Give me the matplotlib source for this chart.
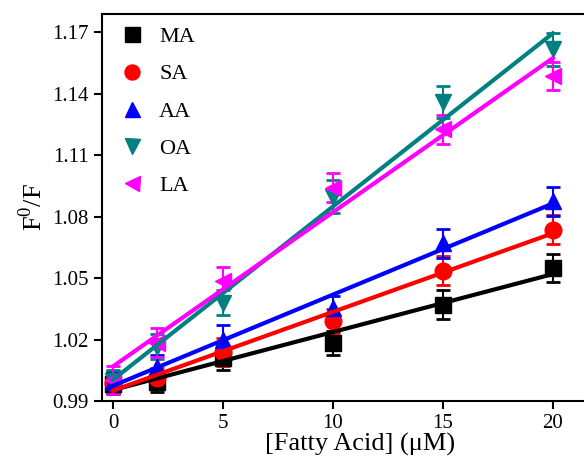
import numpy as np
import matplotlib
matplotlib.use('Agg')
import matplotlib.pyplot as plt

plt.rcParams['font.family'] = ['Liberation Serif', 'DejaVu Serif']
plt.rcParams['mathtext.fontset'] = 'custom'
plt.rcParams['mathtext.rm'] = 'Liberation Serif'

# concentrations (uM)
conc = [0, 2, 5, 10, 15, 20]

# F0/F values
ma = [0.9985, 0.9995, 1.0110, 1.0184, 1.0370, 1.0550]
sa = [0.9990, 1.0010, 1.0140, 1.0290, 1.0536, 1.0737]
aa = [0.9995, 1.0066, 1.0200, 1.0355, 1.0670, 1.0874]
oa = [1.0000, 1.0165, 1.0380, 1.0898, 1.1360, 1.1617]
la = [1.0003, 1.0185, 1.0485, 1.0942, 1.1226, 1.1486]

# error bars
ma_err = [0.005, 0.005, 0.006, 0.006, 0.007, 0.007]
sa_err = [0.005, 0.005, 0.007, 0.006, 0.007, 0.007]
aa_err = [0.005, 0.006, 0.007, 0.006, 0.007, 0.007]
oa_err = [0.005, 0.006, 0.006, 0.008, 0.008, 0.008]
la_err = [0.007, 0.007, 0.007, 0.007, 0.007, 0.007]

labels = ['MA', 'SA', 'AA', 'OA', 'LA']
colors = ['black', 'red', 'blue', '#008080', 'magenta']
markers = ['s', 'o', '^', 'v', '<']
series = [ma, sa, aa, oa, la]
errors = [ma_err, sa_err, aa_err, oa_err, la_err]

fig = plt.figure(figsize=(5.84, 4.62), dpi=100)
# the right part of the frame is cut off in the original picture
ax = fig.add_axes([0.1747, 0.132, 0.883, 0.838])

x = np.array(conc)
for y, e, c, m, lab in zip(series, errors, colors, markers, labels):
    ax.errorbar(x, y, yerr=e, fmt=m, color=c, markersize=12, capsize=5,
                elinewidth=1.5, capthick=2, label=lab, zorder=2)

# linear fits
for y, c in zip(series, colors):
    k, b = np.polyfit(x, y, 1)
    xx = np.array([0, 20])
    ax.plot(xx, k * xx + b, color=c, lw=3, zorder=3)

ax.set_xlim(-0.5, 22.95)
ax.set_ylim(0.99, 1.179)
ax.set_xticks([0, 5, 10, 15, 20])
ax.set_yticks([0.99, 1.02, 1.05, 1.08, 1.11, 1.14, 1.17])
ax.set_yticklabels(['0.99', '1.02', '1.05', '1.08', '1.11', '1.14', '1.17'])
ax.tick_params(labelsize=15, width=1.5, length=6, direction='out')
for s in ['left', 'bottom', 'top', 'right']:
    ax.spines[s].set_linewidth(1.5)

ax.set_xlabel('[Fatty Acid] (\u03bcM)', fontsize=19, labelpad=0)
ax.set_ylabel('F$^0$/F', fontsize=19, labelpad=4)

handles, labs = ax.get_legend_handles_labels()
handles = [h[0] for h in handles]
ax.legend(handles, labs, loc='upper left', bbox_to_anchor=(0.016, 0.99),
          frameon=False, fontsize=16, handletextpad=0.6, labelspacing=0.75,
          borderaxespad=0, handlelength=1.2, markerscale=0.9)

fig.savefig('out.png', dpi=100)
